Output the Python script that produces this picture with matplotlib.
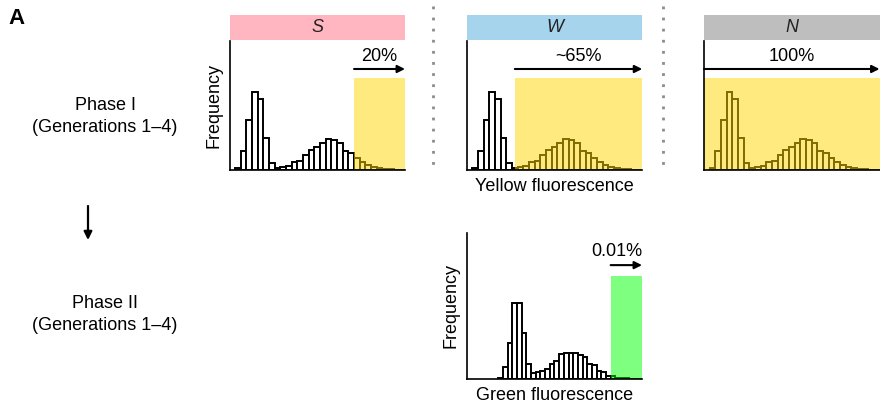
import numpy as np
import matplotlib.pyplot as plt
from matplotlib.patches import Rectangle, FancyArrowPatch
from matplotlib.lines import Line2D

plt.rcParams['font.family'] = ['Liberation Sans', 'DejaVu Sans']

# yellow fluorescence histogram (same population, three different gates)
yellow_counts = [0.03, 0.24, 0.635, 1.0, 0.905, 0.41, 0.086, 0.026, 0.034, 0.056,
                 0.10, 0.12, 0.19, 0.25, 0.30, 0.35, 0.395, 0.378, 0.343, 0.24,
                 0.215, 0.15, 0.107, 0.064, 0.034, 0.02, 0.013, 0.009, 0.004, 0.002]
# green fluorescence histogram (phase II)
green_counts = [0.018, 0.158, 0.47, 0.99, 1.0, 0.6, 0.19, 0.08, 0.09, 0.11,
                0.13, 0.19, 0.24, 0.325, 0.34, 0.345, 0.345, 0.32, 0.29, 0.19,
                0.18, 0.11, 0.09, 0.044, 0.035, 0.018, 0.01, 0.008, 0.006, 0.005,
                0.004]

strategies = ['S', 'W', 'N']
header_colors = ['#ffb6c1', '#a6d4ec', '#bebebe']
yellow_gates = [21, 7.5, -1]
yellow_labels = ['20%', '~65%', '100%']
green_gate = 24
green_label = '0.01%'

fig = plt.figure(figsize=(8.8, 4.07), dpi=100)
W, H = 880.0, 407.0


def add_axes(left, right, top, bottom):
    return fig.add_axes([left / W, 1 - bottom / H, (right - left) / W, (bottom - top) / H])


def hist_panel(ax, counts, gate, xlim, ylim_top, color, box_top, arrow_y, label, label_y, right_align=False):
    x = np.arange(len(counts))
    ax.bar(x, counts, width=1, align='edge', color='white', edgecolor='black', lw=1.4, zorder=2)
    ax.set_xlim(*xlim)
    ax.set_ylim(0, ylim_top)
    # gated region, drawn on top of the bars
    ax.axvspan(gate, xlim[1], ymin=0, ymax=box_top, facecolor=color, alpha=0.5, lw=0, zorder=3)
    ax.annotate('', xy=(xlim[1], arrow_y), xytext=(gate, arrow_y),
                xycoords=('data', 'axes fraction'),
                arrowprops=dict(arrowstyle='-|>', color='black', lw=1.5,
                                mutation_scale=11, shrinkA=0, shrinkB=0),
                annotation_clip=False)
    if right_align:
        ax.text(xlim[1], label_y, label, ha='right', va='center', fontsize=13,
                transform=ax.get_xaxis_transform())
    else:
        ax.text((gate + xlim[1]) / 2, label_y, label, ha='center', va='center', fontsize=13,
                transform=ax.get_xaxis_transform())
    ax.set_xticks([])
    ax.set_yticks([])
    for s in ['top', 'right']:
        ax.spines[s].set_visible(False)
    for s in ['left', 'bottom']:
        ax.spines[s].set_linewidth(1.2)
        ax.spines[s].set_zorder(4)


# phase I panels
lefts = [229.5, 466.7, 704]
for i in range(3):
    ax = add_axes(lefts[i], lefts[i] + 175.5, 41, 170)
    hist_panel(ax, yellow_counts, yellow_gates[i], (-1, 30), 1.647, 'gold',
               0.713, 0.783, yellow_labels[i], 0.876)
    ax.add_patch(Rectangle((0, 1.008), 1, 0.194, transform=ax.transAxes,
                           facecolor=header_colors[i], edgecolor='none', clip_on=False))
    ax.text(0.5, 1.105, strategies[i], transform=ax.transAxes, ha='center', va='center',
            fontsize=13, style='italic', color='#222222')
    if i == 0:
        ax.set_ylabel('Frequency', fontsize=13, labelpad=5)
    if i == 1:
        ax.set_xlabel('Yellow fluorescence', fontsize=13, labelpad=6)

# phase II panel
ax2 = add_axes(466.7, 642, 233, 379)
hist_panel(ax2, green_counts, green_gate, (-6.75, 30.7), 1.91, '#00ff00',
           0.705, 0.78, green_label, 0.87, right_align=True)
ax2.set_ylabel('Frequency', fontsize=13, labelpad=5)
ax2.set_xlabel('Green fluorescence', fontsize=13, labelpad=6)

# dotted separators between strategies
for xs in [433, 663]:
    fig.add_artist(Line2D([xs / W, xs / W], [1 - 6 / H, 1 - 166 / H], color='#8c8c8c',
                          lw=2.0, linestyle=(0, (1, 3))))

# row labels
fig.text(8 / W, 1 - 19 / H, 'A', fontsize=16, fontweight='bold', va='center', ha='left')
fig.text(105 / W, 1 - 106 / H, 'Phase I', fontsize=13, ha='center', va='center')
fig.text(105 / W, 1 - 127 / H, '(Generations 1\u20134)', fontsize=13, ha='center', va='center')
fig.text(105 / W, 1 - 304 / H, 'Phase II', fontsize=13, ha='center', va='center')
fig.text(105 / W, 1 - 326 / H, '(Generations 1\u20134)', fontsize=13, ha='center', va='center')
fig.add_artist(FancyArrowPatch(
    (88 / W, 1 - 206 / H), (88 / W, 1 - 240 / H), transform=fig.transFigure,
    arrowstyle='-|>', mutation_scale=12, lw=1.6, color='black', shrinkA=0, shrinkB=0))

fig.savefig('out.png', dpi=100)
